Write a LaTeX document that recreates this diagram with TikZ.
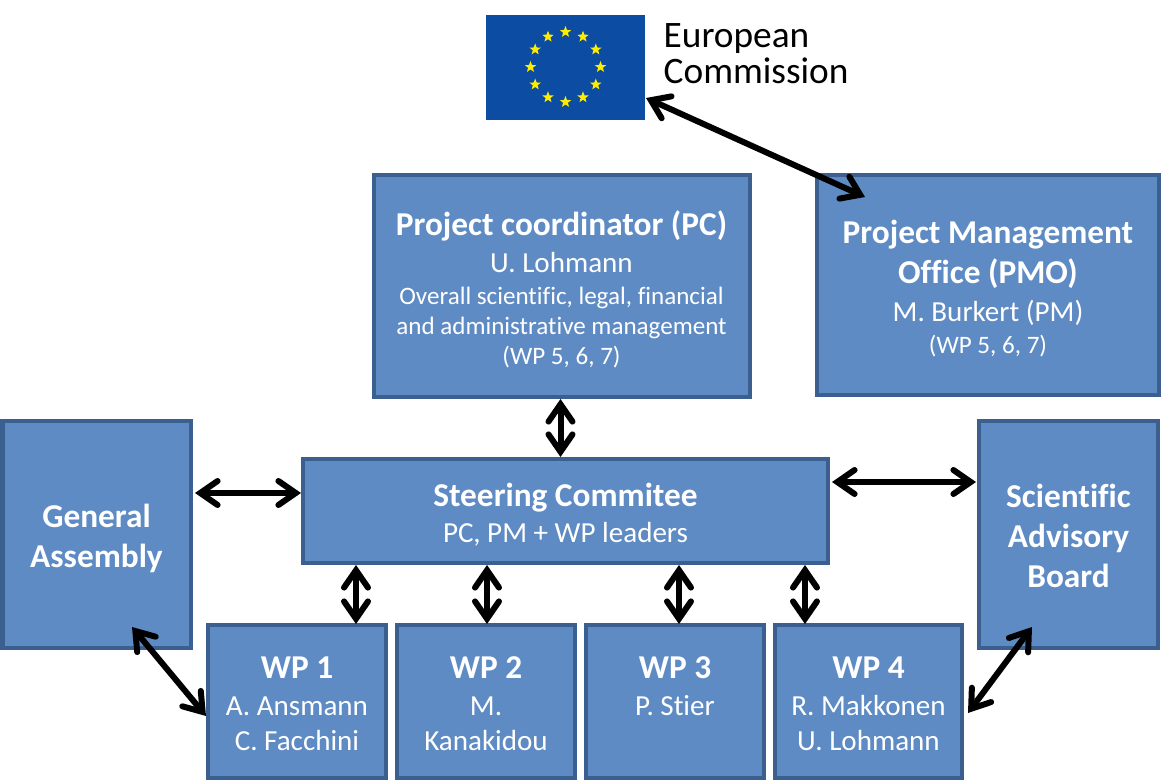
\documentclass[tikz,border=0pt]{standalone}
\usepackage{fontspec}
\setmainfont[Ligatures={NoCommon}]{Carlito}
\usetikzlibrary{arrows.meta,shapes.geometric}
\definecolor{boxblue}{HTML}{5F8BC4}
\definecolor{boxedge}{HTML}{3B5F8F}
\definecolor{flagblue}{HTML}{0D4CA3}
\definecolor{flagstar}{HTML}{FFED00}
\setlength{\lineskip}{0pt}
% one line of text in a box, struts fix the line pitch
\newcommand{\headline}[1]{{\fontsize{25}{25}\selectfont\bfseries\rule[-5pt]{0pt}{30pt}#1}}
\newcommand{\nameline}[1]{{\fontsize{21.8}{22}\selectfont\rule[-5pt]{0pt}{26.25pt}#1}}
\newcommand{\smallline}[1]{{\fontsize{18.8}{19}\selectfont\rule[-5pt]{0pt}{22.5pt}#1}}
\tikzset{
  orgbox/.style={draw=boxedge,fill=boxblue,line width=3pt,text=white,align=center,inner sep=0pt},
  barbtip/.tip={Straight Barb[length=13pt,width=18pt,line width=4.5pt,line cap=round,line join=miter]},
  link/.style={line width=4.5pt,barbtip-barbtip},
}
\begin{document}
\begin{tikzpicture}[x=0.75pt,y=-0.75pt]
\useasboundingbox (0,0) rectangle (1161,780);
% flag
\node[fill=flagblue,minimum width=119.25pt,minimum height=78.75pt,inner sep=0pt] (flag) at (565.5,67.5) {};
\foreach \i in {1,...,12}{
  \node[star,star points=5,star point ratio=2.4,fill=flagstar,inner sep=0pt,minimum size=9pt] (star\i) at ({565.5+35*cos(\i*30)},{67+35*sin(\i*30)}) {};
}
\node[anchor=west,align=left,font=\fontsize{28}{27}\selectfont] (ec) at (659,54) {European\\Commission};
% upper boxes
\node[orgbox,minimum width=282pt,minimum height=166.5pt] (pc) at (561.5,286.5) {\headline{Project coordinator (PC)}\\[1.5pt]
  \nameline{U. Lohmann}\\[1.5pt]
  \smallline{Overall scientific, legal, financial}\\
  \smallline{and administrative management}\\
  \smallline{(WP 5, 6, 7)}};
\node[orgbox,minimum width=257pt,minimum height=165pt] (pmo) at (988,285) {\headline{Project Management}\\
  \headline{Office (PMO)}\\[2.25pt]
  \nameline{M. Burkert (PM)}\\[1.5pt]
  \smallline{(WP 5, 6, 7)}};
% middle row
\node[orgbox,minimum width=141pt,minimum height=169.5pt] (ga) at (96.5,534.5) {\headline{General}\\\headline{Assembly}};
\node[orgbox,minimum width=394pt,minimum height=78pt] (sc) at (565.5,511) {\headline{Steering Commitee}\\[0.75pt]
  \nameline{PC, PM + WP leaders}};
\node[orgbox,minimum width=134pt,minimum height=169.5pt] (sab) at (1068.5,534.5) {\headline{Scientific}\\\headline{Advisory}\\\headline{Board}};
% work packages
\node[orgbox,minimum width=133.5pt,minimum height=114.75pt] (wpa) at (297,701) {\headline{WP 1}\\[1.5pt]\nameline{A. Ansmann}\\\nameline{C. Facchini}};
\node[orgbox,minimum width=133.5pt,minimum height=114.75pt] (wpb) at (486,701) {\headline{WP 2}\\[1.5pt]\nameline{M.}\\\nameline{Kanakidou}};
\node[orgbox,minimum width=133.5pt,minimum height=114.75pt] (wpc) at (675,701) {\headline{WP 3}\\[1.5pt]\nameline{P. Stier}\\\nameline{\mbox{}}};
\node[orgbox,minimum width=140pt,minimum height=114.75pt] (wpd) at (868.5,701) {\headline{WP 4}\\[1.5pt]\nameline{R. Makkonen}\\\nameline{U. Lohmann}};
% free arrow ends
\coordinate (ecend) at (646,98);
\coordinate (pmoend) at (865,197);
\coordinate (gaend) at (132,627);
\coordinate (wpaend) at (206,716);
\coordinate (sabend) at (1032,627);
\coordinate (wpdend) at (968,713);
\coordinate (gaside) at (195,493);
\coordinate (scleft) at (301,493);
\coordinate (scright) at (832,482);
\coordinate (sabside) at (976,482);
\coordinate (pctip) at (560.5,399);
\coordinate (wpatop) at (356,624);
\coordinate (wpbtop) at (487,624);
\coordinate (wpctop) at (679,624);
\coordinate (wpdtop) at (805,624);
% arrows
\draw[link] (ecend) -- (pmoend);
\draw[link] (gaend) -- (wpaend);
\draw[link] (sabend) -- (wpdend);
\draw[link] (gaside) -- (scleft);
\draw[link] (scright) -- (sabside);
\draw[link] (pctip) -- (pctip |- sc.north);
\foreach \t in {wpatop,wpbtop,wpctop,wpdtop}{
  \draw[link] (sc.south -| \t) -- (\t);
}
\end{tikzpicture}
\end{document}
